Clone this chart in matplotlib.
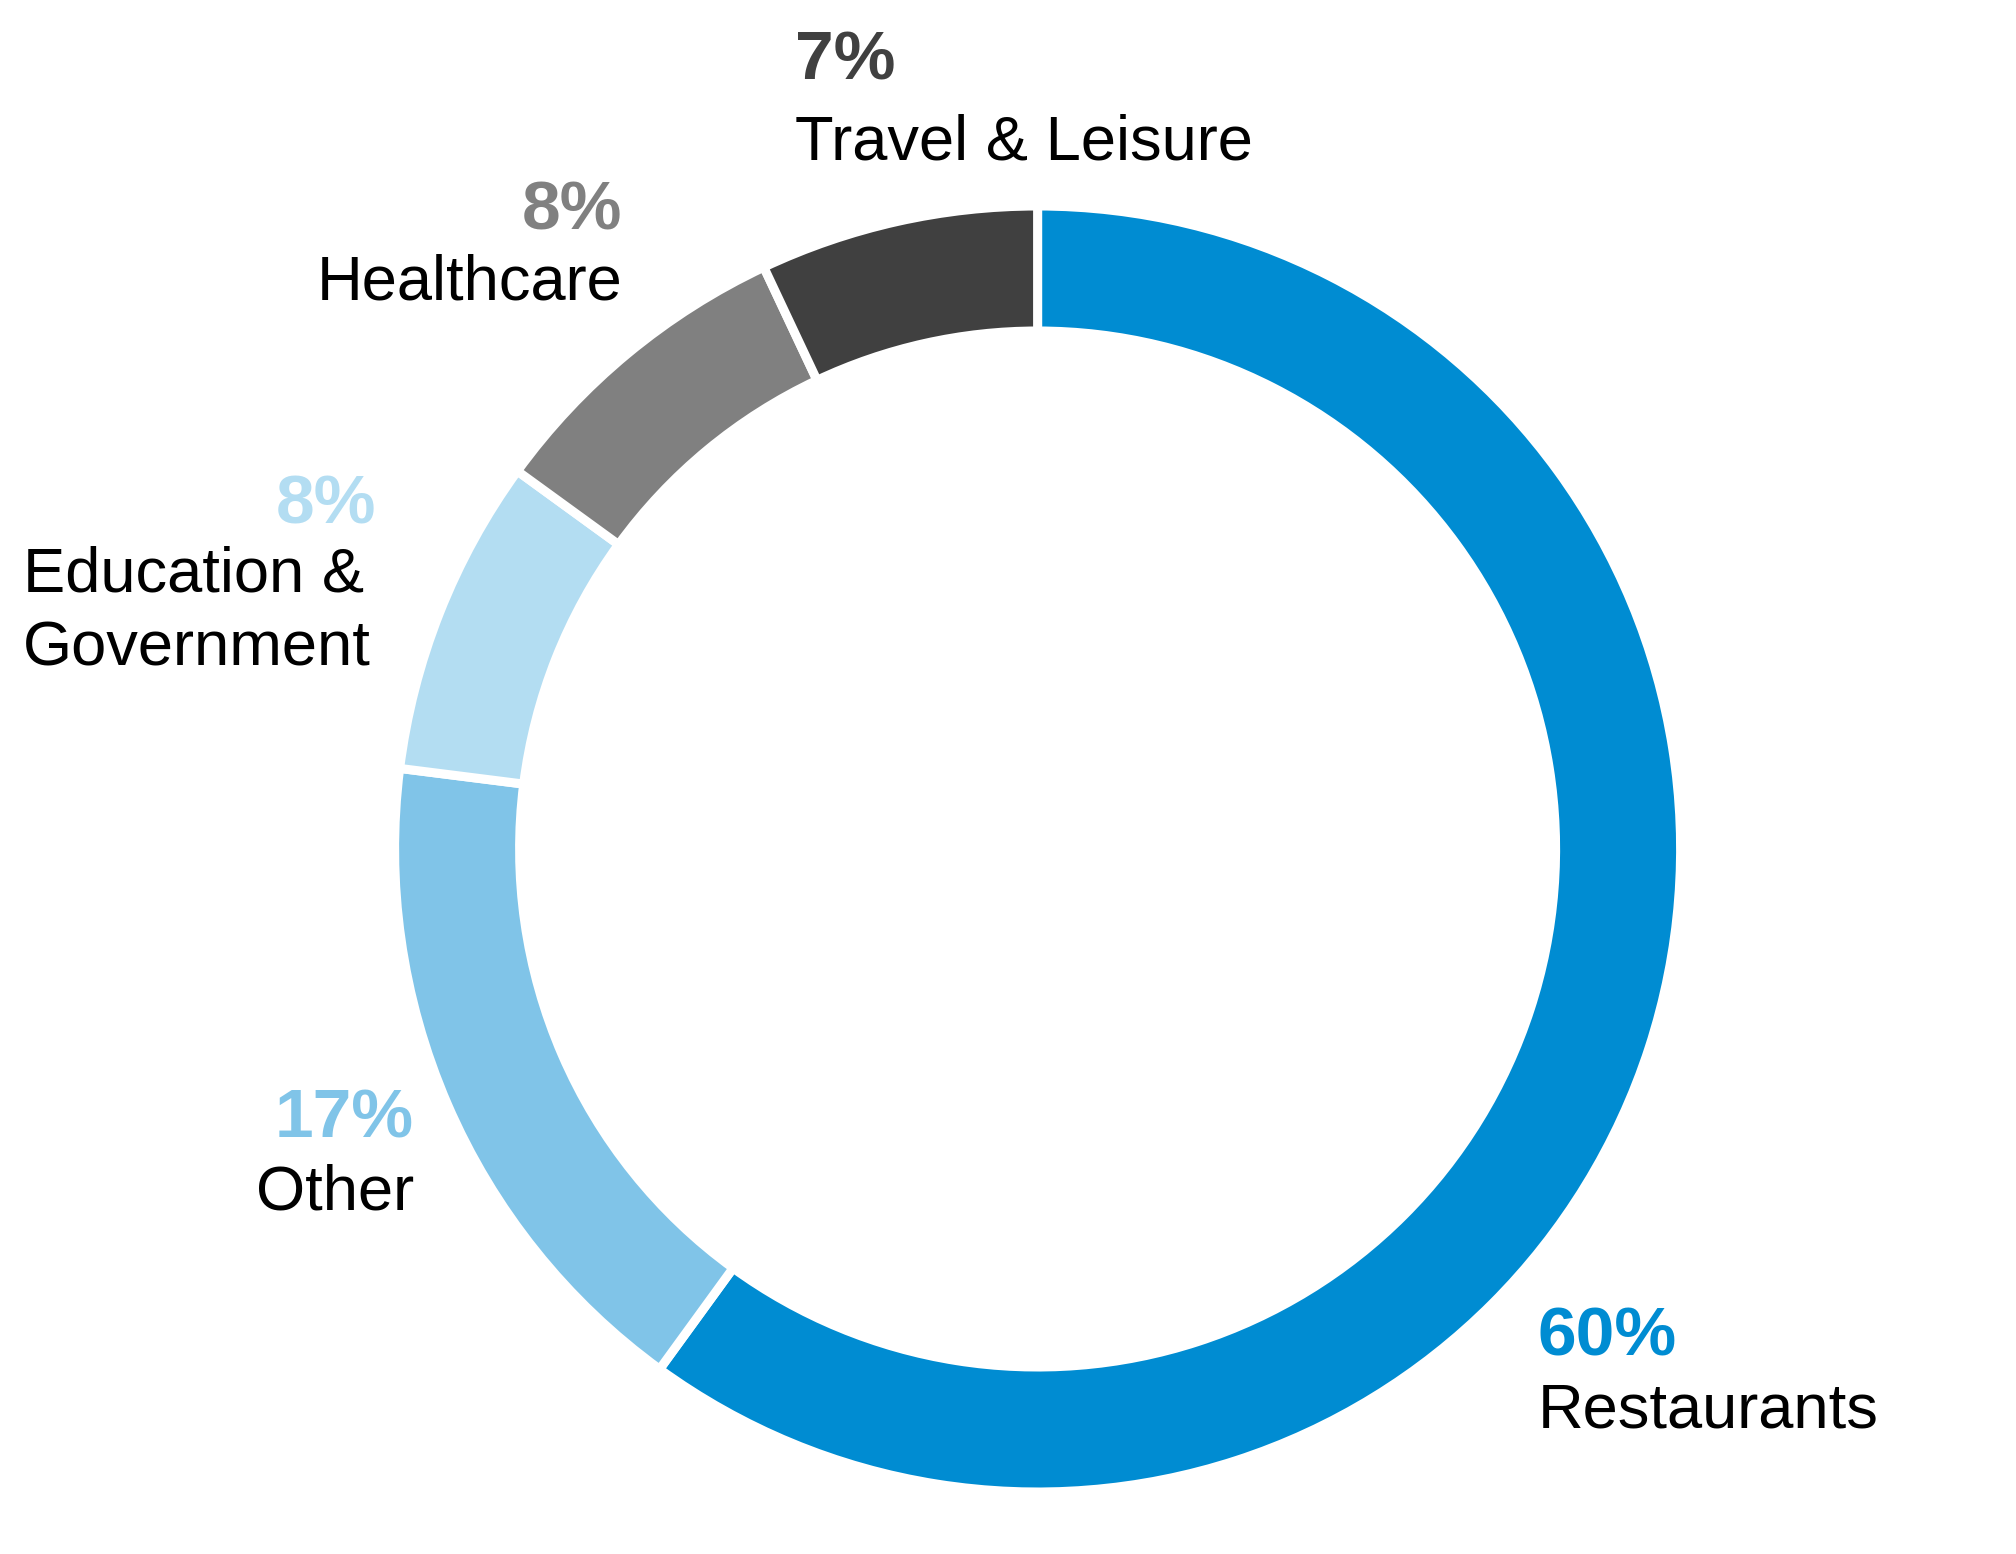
import matplotlib
matplotlib.use("Agg")
import matplotlib.pyplot as plt

# segments, clockwise from 12 o'clock
labels = ["Restaurants", "Other", "Education &\nGovernment", "Healthcare", "Travel & Leisure"]
shares = [60, 17, 8, 8, 7]
colors = ["#008cd2", "#80c4e8", "#b3ddf2", "#808080", "#404040"]

W, H = 2016, 1554
plt.rcParams['font.family'] = ['Liberation Sans', 'DejaVu Sans']

fig = plt.figure(figsize=(W / 100, H / 100), dpi=100)
ax = fig.add_axes([0, 0, 1, 1])

cx, cy = 1037.6, H - 849
ax.pie(shares, colors=colors, startangle=90, counterclock=False,
       center=(cx, cy), radius=643, frame=True,
       wedgeprops=dict(width=125, edgecolor='white', linewidth=6.5))
ax.set_xlim(0, W)
ax.set_ylim(0, H)
ax.set_aspect('equal')
ax.axis('off')

# label placement (x, baseline y from top for % and name, alignment)
pos = [
    (1538, 1355, 1427, 'left'),
    (414, 1137, 1209, 'right'),
    (23, 523, 591, 'left'),
    (622, 229, 300, 'right'),
    (795, 80, 159, 'left'),
]

for lab, s, c, (x, yp, yl, ha) in zip(labels, shares, colors, pos):
    if lab.startswith("Education"):
        ax.text(376, H - yp, f"{s}%", color=c, fontsize=50, fontweight='bold',
                ha='right', va='baseline')
        ax.text(x, H - yl, "Education &", color='black', fontsize=45.5,
                ha='left', va='baseline')
        ax.text(x, H - 666, "Government", color='black', fontsize=45.5,
                ha='left', va='baseline')
        continue
    ax.text(x, H - yp, f"{s}%", color=c, fontsize=50, fontweight='bold',
            ha=ha, va='baseline')
    ax.text(x, H - yl, lab, color='black', fontsize=45.5, ha=ha, va='baseline')

fig.savefig("out.png", dpi=100, facecolor='white')
